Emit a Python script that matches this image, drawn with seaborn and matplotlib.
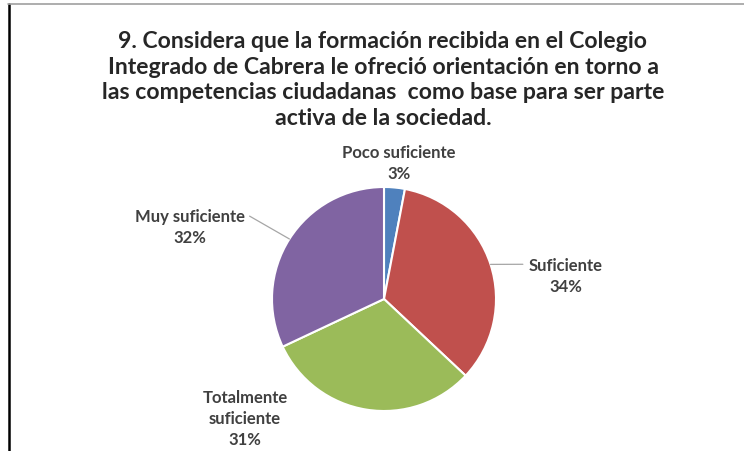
import numpy as np
import seaborn as sns
import matplotlib.pyplot as plt
from matplotlib.lines import Line2D

# =========================================================
# DATA
# =========================================================
labels = ["Poco suficiente", "Suficiente", "Totalmente\nsuficiente", "Muy suficiente"]
shares = [3, 34, 31, 32]
colors = ["#4F81BD", "#C0504D", "#9BBB59", "#8064A2"]

title = ("9. Considera que la formación recibida en el Colegio\n"
         "Integrado de Cabrera le ofreció orientación en torno a\n"
         "las competencias ciudadanas  como base para ser parte\n"
         "activa de la sociedad.")

# label block centres (pie radius = 1), leader start points (None = no leader)
label_pos = [(0.13, 1.22), (1.62, 0.21), (-1.24, -1.06), (-1.73, 0.65)]
leader_from = [None, (1.24, 0.31), None, (-1.20, 0.74)]

# =========================================================
# PLOT
# =========================================================
sns.set_theme(style="white")
plt.rcParams["font.family"] = ["Lato", "DejaVu Sans"]

W, H = 744, 452
fig = plt.figure(figsize=(W / 100, H / 100), dpi=100)
fig.patch.set_facecolor("white")
ax = fig.add_axes([0, 0, 1, 1])

wedges, _ = ax.pie(shares, colors=colors, startangle=90, counterclock=False,
                   radius=1.0, wedgeprops={"edgecolor": "white", "linewidth": 1.5})

# pie centre at (384, 300) px, radius 112 px
r_px, cx, cy = 112, 384, 300
ax.set_xlim(-cx / r_px, (W - cx) / r_px)
ax.set_ylim(-(H - cy) / r_px, cy / r_px)
ax.set_aspect("equal")
ax.axis("off")

for w, lab, val, pos, lead in zip(wedges, labels, shares, label_pos, leader_from):
    ax.text(pos[0], pos[1], f"{lab}\n{val}%", ha="center", va="center",
            fontsize=12, fontweight="bold", color="#404040", linespacing=1.4)
    if lead is not None:
        mid = np.deg2rad((w.theta1 + w.theta2) / 2)
        ax.annotate("", xy=(np.cos(mid), np.sin(mid)), xytext=lead,
                    arrowprops=dict(arrowstyle="-", color="#A6A6A6", lw=0.9,
                                    shrinkA=0, shrinkB=0))

fig.text(383 / W, 1 - 80 / H, title, ha="center", va="center",
         fontsize=16.6, fontweight="bold", color="#262626", linespacing=1.28)

# frame lines of the original screenshot
fig.add_artist(Line2D([8.5 / W, 8.5 / W], [0, 1 - 5 / H], color="black", lw=1.8))
fig.add_artist(Line2D([8 / W, 1], [1 - 5 / H, 1 - 5 / H], color="#A0A0A0", lw=1.2))

fig.savefig("out.png", dpi=100, facecolor="white")
